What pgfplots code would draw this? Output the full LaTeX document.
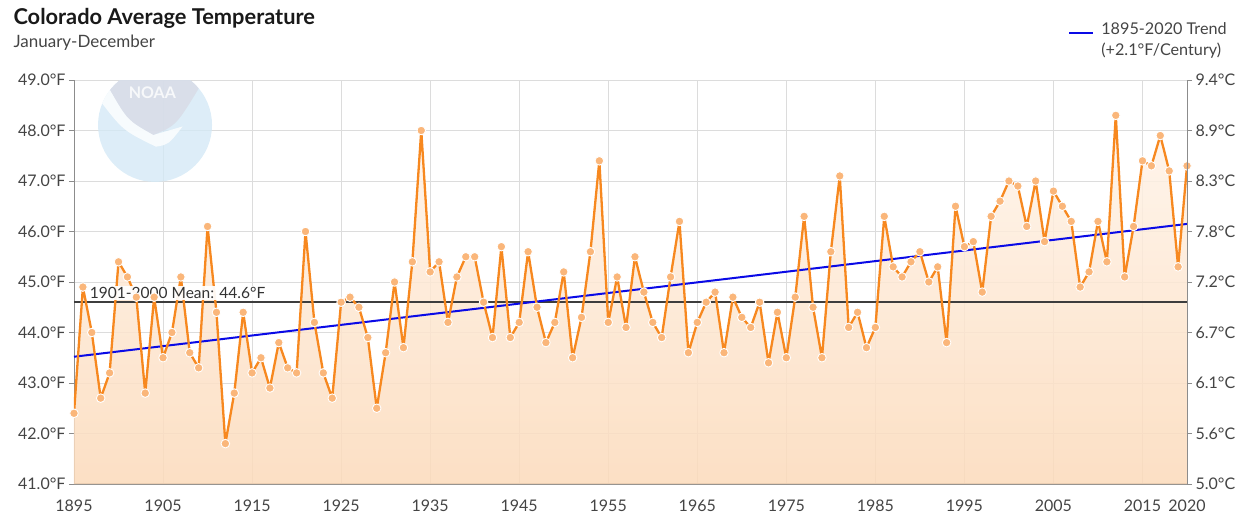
\documentclass[border=0pt]{standalone}
\usepackage{pgfplots}
\pgfplotsset{compat=1.18}
\usepackage{pgfplotstable}
\usepackage{fontspec}
\setmainfont{Lato}
\definecolor{lineor}{RGB}{247,136,31}
\definecolor{markor}{RGB}{250,182,122}
\definecolor{filltop}{RGB}{255,244,234}
\definecolor{fillbot}{RGB}{252,218,186}
\definecolor{gridc}{RGB}{220,220,220}
\definecolor{trendb}{RGB}{10,10,230}
\definecolor{txt}{RGB}{68,68,68}
\definecolor{noaab}{RGB}{212,233,246}
\definecolor{noaag}{RGB}{216,219,230}
\pgfplotstableread{
year temp
1895 42.4
1896 44.9
1897 44.0
1898 42.7
1899 43.2
1900 45.4
1901 45.1
1902 44.7
1903 42.8
1904 44.7
1905 43.5
1906 44.0
1907 45.1
1908 43.6
1909 43.3
1910 46.1
1911 44.4
1912 41.8
1913 42.8
1914 44.4
1915 43.2
1916 43.5
1917 42.9
1918 43.8
1919 43.3
1920 43.2
1921 46.0
1922 44.2
1923 43.2
1924 42.7
1925 44.6
1926 44.7
1927 44.5
1928 43.9
1929 42.5
1930 43.6
1931 45.0
1932 43.7
1933 45.4
1934 48.0
1935 45.2
1936 45.4
1937 44.2
1938 45.1
1939 45.5
1940 45.5
1941 44.6
1942 43.9
1943 45.7
1944 43.9
1945 44.2
1946 45.6
1947 44.5
1948 43.8
1949 44.2
1950 45.2
1951 43.5
1952 44.3
1953 45.6
1954 47.4
1955 44.2
1956 45.1
1957 44.1
1958 45.5
1959 44.8
1960 44.2
1961 43.9
1962 45.1
1963 46.2
1964 43.6
1965 44.2
1966 44.6
1967 44.8
1968 43.6
1969 44.7
1970 44.3
1971 44.1
1972 44.6
1973 43.4
1974 44.4
1975 43.5
1976 44.7
1977 46.3
1978 44.5
1979 43.5
1980 45.6
1981 47.1
1982 44.1
1983 44.4
1984 43.7
1985 44.1
1986 46.3
1987 45.3
1988 45.1
1989 45.4
1990 45.6
1991 45.0
1992 45.3
1993 43.8
1994 46.5
1995 45.7
1996 45.8
1997 44.8
1998 46.3
1999 46.6
2000 47.0
2001 46.9
2002 46.1
2003 47.0
2004 45.8
2005 46.8
2006 46.5
2007 46.2
2008 44.9
2009 45.2
2010 46.2
2011 45.4
2012 48.3
2013 45.1
2014 46.1
2015 47.4
2016 47.3
2017 47.9
2018 47.2
2019 45.3
2020 47.3
}\tempdata
\begin{document}
\begin{tikzpicture}
\begin{axis}[
  at={(0pt,0pt)}, anchor=south west,
  scale only axis, width=1113pt, height=404pt,
  xmin=1895, xmax=2020, ymin=41, ymax=49,
  xtick={1895,1905,1915,1925,1935,1945,1955,1965,1975,1985,1995,2005,2015,2020},
  ytick={41,42,43,44,45,46,47,48,49},
  /pgf/number format/assume math mode=true,
  xticklabel={\pgfmathprintnumber[1000 sep={}]{\tick}},
  yticklabel={\pgfmathprintnumber[fixed,fixed zerofill,precision=1]{\tick}°F},
  ticklabel style={font=\fontsize{16}{18}\selectfont, text=txt},
  xticklabel style={yshift=-7pt},
  grid=major, major grid style={gridc, line width=0.9pt},
  axis x line*=bottom, axis y line*=left,
  x axis line style={draw=black!45, line width=1.6pt},
  y axis line style={draw=black!45, line width=0.9pt},
  tick align=outside, major tick length=5pt,
  ytick style={draw=black!45, line width=0.9pt},
  xtick style={draw=none},
  legend style={at={(0.8932,1.1535)}, anchor=north west, draw=none, fill=none,
    font=\fontsize{16.2}{20.5}\selectfont, text=txt, inner sep=0pt,
    legend image code/.code={\draw[#1] (0pt,0pt) -- (24pt,0pt); \path (29pt,0pt);}},
  legend cell align=left,
]
% NOAA watermark
\begin{scope}[opacity=0.8]
\fill[noaab] (axis cs:1904.1,48.11) circle[radius=57pt];
\begin{scope}
\clip (axis cs:1904.1,48.11) circle[radius=57pt];
\fill[noaag] (axis cs:1899.04,48.80) .. controls (axis cs:1901,48.2) .. (axis cs:1903.91,47.91) .. controls (axis cs:1906.5,48.1) .. (axis cs:1909.34,48.93) -- (axis cs:1910,49.9) -- (axis cs:1898.5,49.9) -- cycle;
\fill[white] (axis cs:1897.8,48.62) .. controls (axis cs:1900.5,48.0) .. (axis cs:1904.2,47.68) .. controls (axis cs:1905.6,47.72) .. (axis cs:1907.2,48.08) .. controls (axis cs:1905.6,47.98) .. (axis cs:1903.91,47.91) .. controls (axis cs:1901,48.2) .. (axis cs:1899.04,48.80) -- cycle;
\end{scope}
\node[text=white, font=\bfseries\fontsize{16}{16}\selectfont] at (axis cs:1903.8,48.74) {NOAA};
\end{scope}
\addplot[top color=filltop, bottom color=fillbot, fill opacity=0.85, draw=none, forget plot]
  table[x=year,y=temp] {\tempdata} -- (axis cs:2020,41) -- (axis cs:1895,41) -- cycle;
\addplot[color=txt!90!black, line width=1.5pt, forget plot] coordinates {(1895,44.6) (2020,44.6)};
\addplot[color=trendb, line width=2pt] coordinates {(1895,43.52) (2020,46.15)};
\addlegendentry{\begin{tabular}{@{}l@{}}1895-2020 Trend\\(+2.1°F/Century)\end{tabular}}
\addplot[color=lineor, line width=2.3pt, line join=round, mark=*, mark size=4.3pt,
  mark options={fill=markor, draw=white, line width=0.9pt}, forget plot]
  table[x=year,y=temp] {\tempdata};
\node[anchor=south west, fill=white, fill opacity=0.93, text opacity=1, text=black!80,
  font=\fontsize{15.5}{17}\selectfont, inner sep=1.5pt] at (axis cs:1896.6,44.63) {1901-2000 Mean: 44.6°F};
\end{axis}
\begin{axis}[
  at={(0pt,0pt)}, anchor=south west,
  scale only axis, width=1113pt, height=404pt,
  xmin=1895, xmax=2020, ymin=41, ymax=49,
  hide x axis, axis y line*=right,
  ytick={41,42,43,44,45,46,47,48,49},
  yticklabels={5.0°C,5.6°C,6.1°C,6.7°C,7.2°C,7.8°C,8.3°C,8.9°C,9.4°C},
  ticklabel style={font=\fontsize{16}{18}\selectfont, text=txt},
  y axis line style={draw=black!45, line width=0.9pt},
  tick align=outside, major tick length=5pt,
  ytick style={draw=black!45, line width=0.9pt},
]
\addplot[draw=none] coordinates {(1895,41) (2020,49)};
\end{axis}
\node[anchor=base west, font=\bfseries\fontsize{21.8}{25}\selectfont, text=black!90] at (-64pt,459pt) {Colorado Average Temperature};
\node[anchor=base west, font=\fontsize{17}{20}\selectfont, text=txt] at (-64pt,436pt) {January-December};
\pgfresetboundingbox
\path[use as bounding box] (-74pt,-33pt) rectangle (1167pt,484pt);
\end{tikzpicture}
\end{document}
